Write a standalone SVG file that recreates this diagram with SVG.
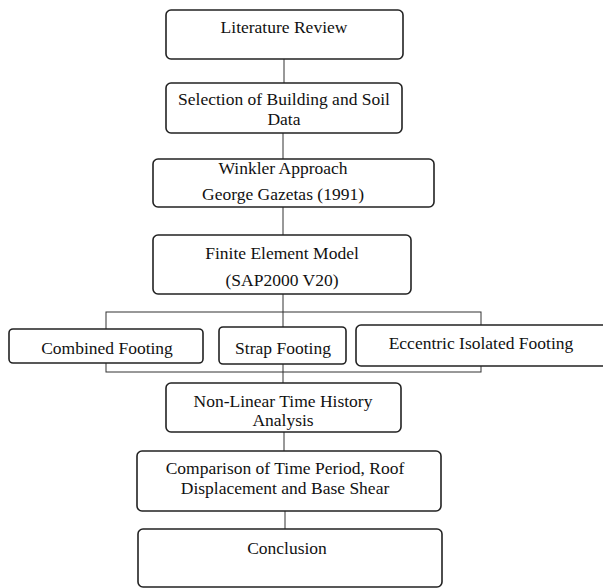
<svg xmlns="http://www.w3.org/2000/svg" width="603" height="588" viewBox="0 0 603 588">
<style>
.box{fill:#fff;stroke:#222;stroke-width:1.6}
.conn{stroke:#333;stroke-width:1;fill:none}
text{font-family:"Liberation Serif","Times New Roman",serif;font-size:17.5px;fill:#111;text-anchor:middle}
</style>
<rect width="603" height="588" fill="#fff"/>
<g id="connectors">
<line class="conn" x1="284" y1="59" x2="284" y2="83"/>
<line class="conn" x1="283" y1="133" x2="283" y2="159"/>
<line class="conn" x1="283" y1="207" x2="283" y2="235"/>
<line class="conn" x1="283" y1="294" x2="283" y2="327"/>
<rect class="conn" x="106" y="312" width="375" height="60"/>
<line class="conn" x1="283" y1="364" x2="283" y2="383"/>
<line class="conn" x1="284" y1="432" x2="284" y2="452"/>
<line class="conn" x1="285" y1="511" x2="285" y2="530"/>
</g>
<g id="literature-review">
<rect class="box" x="166" y="10" width="237" height="49" rx="5"/>
<text x="284" y="33">Literature Review</text>
</g>
<g id="selection">
<rect class="box" x="166" y="83" width="236" height="50" rx="5"/>
<text x="284" y="105">Selection of Building and Soil</text>
<text x="284" y="125">Data</text>
</g>
<g id="winkler">
<rect class="box" x="153" y="159" width="281" height="48" rx="5"/>
<text x="283" y="174">Winkler Approach</text>
<text x="283" y="200">George Gazetas (1991)</text>
</g>
<g id="fem">
<rect class="box" x="153" y="235" width="258" height="59" rx="5"/>
<text x="282" y="259">Finite Element Model</text>
<text x="282" y="286">(SAP2000 V20)</text>
</g>
<g id="combined">
<rect class="box" x="9" y="329" width="194" height="34" rx="4"/>
<text x="107" y="354">Combined Footing</text>
</g>
<g id="strap">
<rect class="box" x="219" y="327" width="127" height="37" rx="4"/>
<text x="283" y="354">Strap Footing</text>
</g>
<g id="eccentric">
<rect class="box" x="356" y="325" width="260" height="41" rx="5"/>
<text x="481" y="349">Eccentric Isolated Footing</text>
</g>
<g id="nonlinear">
<rect class="box" x="166" y="383" width="235" height="49" rx="5"/>
<text x="283" y="407">Non-Linear Time History</text>
<text x="283" y="426">Analysis</text>
</g>
<g id="comparison">
<rect class="box" x="137" y="451" width="304" height="60" rx="5"/>
<text x="285" y="474">Comparison of Time Period, Roof</text>
<text x="285" y="494">Displacement and Base Shear</text>
</g>
<g id="conclusion">
<rect class="box" x="138" y="529" width="304" height="58" rx="5"/>
<text x="287" y="554">Conclusion</text>
</g>
</svg>
